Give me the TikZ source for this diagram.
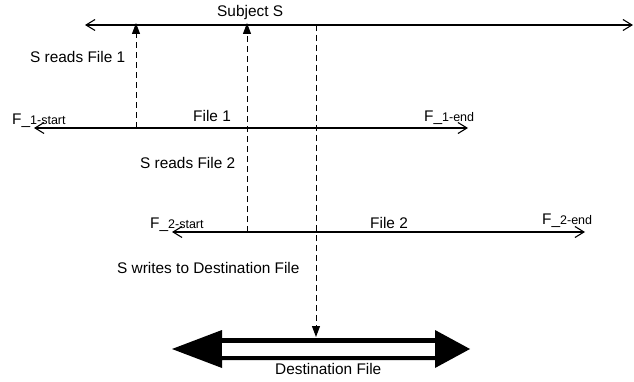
\documentclass[tikz,border=0pt]{standalone}
\usepackage{fontspec}
\setmainfont{Liberation Sans}
\usetikzlibrary{arrows.meta, positioning}

\tikzset{
  lbl/.style={font=\fontsize{15.4}{18}\selectfont, inner sep=0pt, anchor=base west},
  timeline/.style={line width=1.1pt, {Straight Barb[length=9pt,width=11pt]}-{Straight Barb[length=9pt,width=11pt]}},
  access/.style={line width=1pt, dash pattern=on 6pt off 4pt, -{Triangle[length=11pt,width=8pt]}},
}
\newcommand{\fsub}[1]{{\fontsize{12.5}{14}\selectfont #1}}

\begin{document}
\begin{tikzpicture}[x=1pt, y=-1pt]
\useasboundingbox (0,0) rectangle (634,382);

% Subject timeline
\coordinate (s-l) at (85,25);
\coordinate (s-r) at (633,25);
\draw[timeline] (s-l) -- (s-r);
\node[lbl] (subj) at (217,17) {Subject S};

% File 1 timeline
\coordinate (f1-l) at (34,128);
\coordinate (f1-r) at (468,128);
\draw[timeline] (f1-l) -- (f1-r);
\node[lbl] (f1-start) at (12,125) {F\_\fsub{1-start}};
\node[lbl] (f1-name) at (193,122) {File 1};
\node[lbl] (f1-end) at (424,122) {F\_\fsub{1-end}};

% File 2 timeline
\coordinate (f2-l) at (172,232);
\coordinate (f2-r) at (585,232);
\draw[timeline] (f2-l) -- (f2-r);
\node[lbl] (f2-start) at (150,228) {F\_\fsub{2-start}};
\node[lbl] (f2-name) at (370,228) {File 2};
\node[lbl] (f2-end) at (542,224) {F\_\fsub{2-end}};

% Reads and write
\coordinate (r1) at (136,128);
\coordinate (r2) at (247,232);
\coordinate (w1) at (316,25);
\coordinate (dst-top) at (316,337);
\draw[access] (r1) -- ([yshift=2pt]r1 |- s-l);
\draw[access] (r2) -- ([yshift=2pt]r2 |- s-l);
\draw[access] (w1) -- (dst-top);
\node[lbl] (read1) at (30,63) {S reads File 1};
\node[lbl] (read2) at (140,169) {S reads File 2};
\node[lbl] (write) at (117,273) {S writes to Destination File};

% Destination file
\fill (172,349) -- (222,330) -- (222,338) -- (435,338) -- (435,330) -- (470,349)
  -- (435,368) -- (435,360) -- (222,360) -- (222,368) -- cycle;
\fill[white] (222,342.5) rectangle (435,355.5);
\node[lbl] (dst) at (275,374) {Destination File};
\end{tikzpicture}
\end{document}
